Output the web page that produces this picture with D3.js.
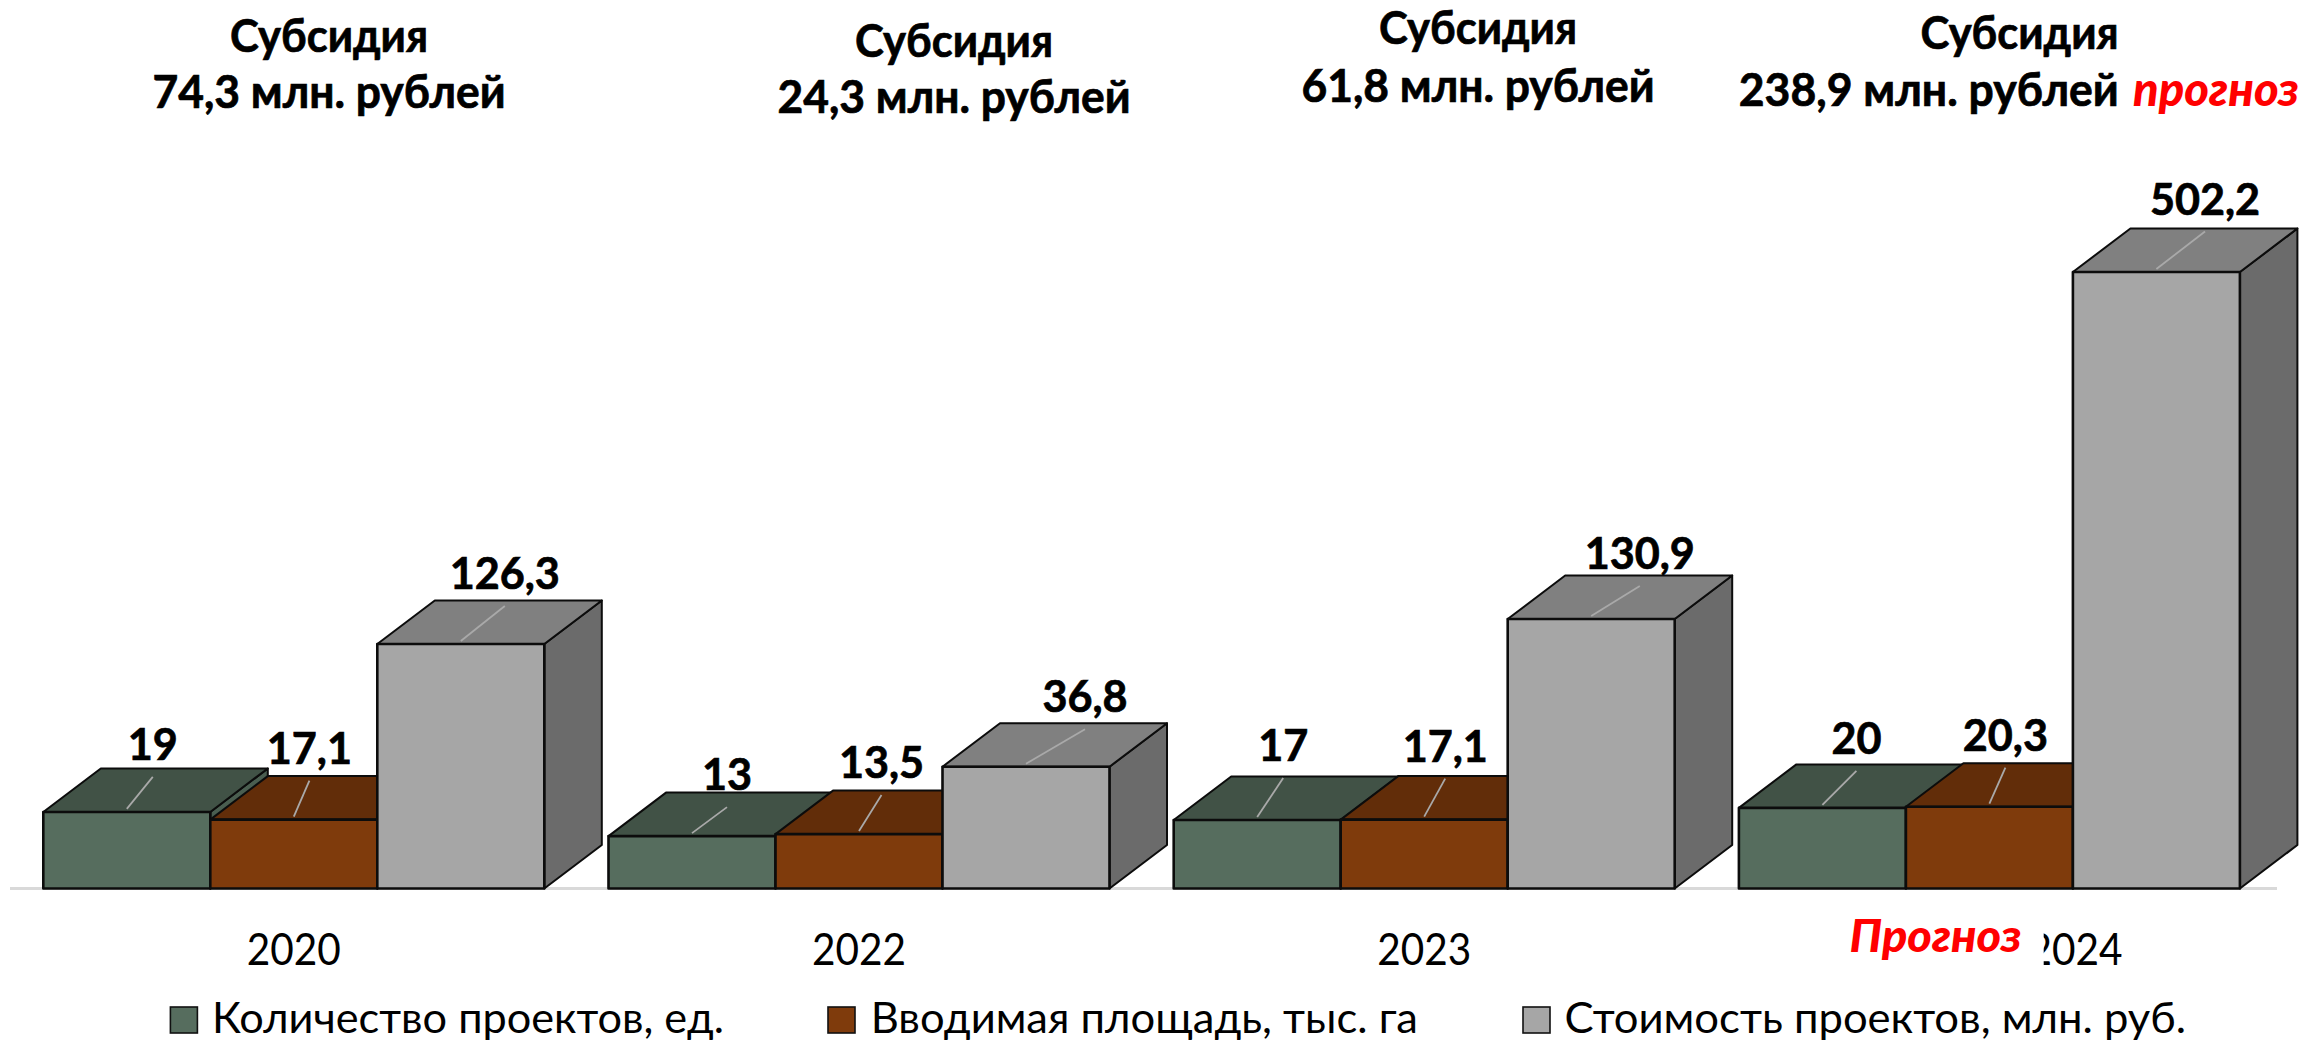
<!DOCTYPE html>
<html><head><meta charset="utf-8"><style>html,body{margin:0;background:#fff}svg{display:block}text{font-family:Lato,"Open Sans",sans-serif;fill:#000}.b{font-weight:700;stroke:#000;stroke-width:.7px}</style>
<script src="https://cdn.jsdelivr.net/npm/d3@7"></script></head><body><svg id="c" width="2302" height="1042"></svg>
<script>
// ---- data ----
const years = ["2020","2022","2023","2024"];
const seriesNames = ["Количество проектов, ед.","Вводимая площадь, тыс. га","Стоимость проектов, млн. руб."];
const projects = [19,13,17,20];
const area = [17.1,13.5,17.1,20.3];
const cost = [126.3,36.8,130.9,502.2];
const subsidies = ["74,3","24,3","61,8","238,9"];
const forecastWord = "прогноз";
const forecastLabel = "Прогноз";
// ---- style / layout ----
const fronts = ["#566d5e","#7f3b0c","#a6a6a6"], tops = ["#415246","#622d09","#808080"], sides = ["#4a5e50","#552808","#6b6b6b"];
const depthX = 57.5, depthY = 43.5;
const leaderOff = [ // per series, per year: leader tip relative to the middle of the bar's front edge
 [[26,-35],[35,-29],[26,-42],[34,-37]],
 [[15.6,-39],[22.5,-39],[21,-41],[16,-39]],
 [[44,-38],[59,-37.5],[48.6,-33],[48.6,-40.5]]];
const fmt = v => String(v).replace(".",",");
const svg = d3.select("#c");
const squeeze = (sel,r)=>sel.each(function(){d3.select(this).attr("textLength",this.getComputedTextLength()*r).attr("lengthAdjust","spacingAndGlyphs");});

const x0 = d3.scaleBand().domain(years).range([43.3,43.3+565.2*3+501]).paddingInner(64.2/565.2).paddingOuter(0);
const x1 = d3.scaleBand().domain([0,1,2]).range([0,x0.bandwidth()]);
// The bars of the source are not drawn to one linear scale, so the scale is piecewise.
const y = d3.scaleLinear().domain([0,20.3,36.8,126.3,130.9,502.2]).range([888.5,806.7,766.7,644,619,272]);

// axis
const axisG = svg.append("g").attr("transform","translate(0,888.5)");
axisG.call(d3.axisBottom(x0).tickSize(0).tickPadding(44));
axisG.select(".domain").remove();
axisG.append("line").attr("x1",10).attr("x2",2277).attr("stroke","#d9d9d9").attr("stroke-width",3);
axisG.selectAll(".tick text").style("font-family","Lato").style("font-size","44px").attr("fill","#000").attr("dy",null)
  .attr("y",76.5).attr("x",d=>d==="2024"?86:0).attr("textLength",94).attr("lengthAdjust","spacingAndGlyphs");

// bars
const line = d3.line();
const allSeries = [projects,area,cost];
years.forEach((yr,g)=>{
  allSeries.forEach((vals,s)=>{
    const l = x0(yr)+x1(s), r = l+x1.bandwidth(), t = y(vals[g]), b = y(0);
    const face = (pts,fill)=>svg.append("path").attr("d",line(pts)+"Z").attr("fill",fill).attr("stroke","#0c0c0c").attr("stroke-width",2).attr("stroke-linejoin","round");
    face([[r,b],[r+depthX,b-depthY],[r+depthX,t-depthY],[r,t]],sides[s]);
    face([[l,t],[l+depthX,t-depthY],[r+depthX,t-depthY],[r,t]],tops[s]);
    face([[l,t],[r,t],[r,b],[l,b]],fronts[s]).attr("stroke-width",2.6);
  });
});
// leaders and labels on top
years.forEach((yr,g)=>{
  allSeries.forEach((vals,s)=>{
    const c = x0(yr)+x1(s)+x1.bandwidth()/2, t = y(vals[g]), o = leaderOff[s][g];
    svg.append("line").attr("x1",c).attr("y1",t-3).attr("x2",c+o[0]).attr("y2",t+o[1]).attr("stroke","#a9a9a9").attr("stroke-width",1.8);
    svg.append("text").attr("class","b").attr("x",c+o[0]).attr("y",t+o[1]-17).attr("text-anchor","middle")
      .style("font-size","44px").text(fmt(vals[g])).call(squeeze,0.98);
  });
});

// subsidy headings
const headX = [329,954,1478,2019.6], headY = [[52,108],[57,113],[44,102],[49,106]];
years.forEach((yr,g)=>{
  svg.append("text").attr("class","b").attr("x",headX[g]).attr("y",headY[g][0]).attr("text-anchor","middle").style("font-size","45px").text("Субсидия").attr("textLength",198).attr("lengthAdjust","spacingAndGlyphs");
  const t = svg.append("text").attr("class","b").attr("y",headY[g][1]).style("font-size","45px").attr("lengthAdjust","spacingAndGlyphs").attr("textLength",g<3?353:380);
  if(g<3) t.attr("x",headX[g]).attr("text-anchor","middle").text(subsidies[g]+" млн. рублей");
  else t.attr("x",1738.8).text(subsidies[g]+" млн. рублей");
});
svg.append("text").attr("x",2133).attr("y",headY[3][1]).attr("textLength",166).attr("lengthAdjust","spacingAndGlyphs")
  .style("font-weight",900).style("font-style","italic").style("font-size","47px").style("fill","#ff0000").text(forecastWord);

// white box hiding part of 2024 and the forecast label
svg.append("rect").attr("x",1840).attr("y",915).attr("width",203.7).attr("height",60).attr("fill","#fff");
svg.append("text").attr("x",1849.5).attr("y",951.7).attr("textLength",172).attr("lengthAdjust","spacingAndGlyphs")
  .style("font-weight",900).style("font-style","italic").style("font-size","46px").style("fill","#ff0000").text(forecastLabel);

// legend
const legX = [170.4,828,1523], legTxt = [212,870.7,1564.5], legW = [512,547.3,621.5];
seriesNames.forEach((n,i)=>{
  svg.append("rect").attr("x",legX[i]).attr("y",1007).attr("width",27).attr("height",26).attr("fill",fronts[i]).attr("stroke","#111").attr("stroke-width",1.6);
  svg.append("text").attr("x",legTxt[i]).attr("y",1033).attr("textLength",legW[i]).attr("lengthAdjust","spacingAndGlyphs").style("font-size","43px").text(n);
});
</script></body></html>
